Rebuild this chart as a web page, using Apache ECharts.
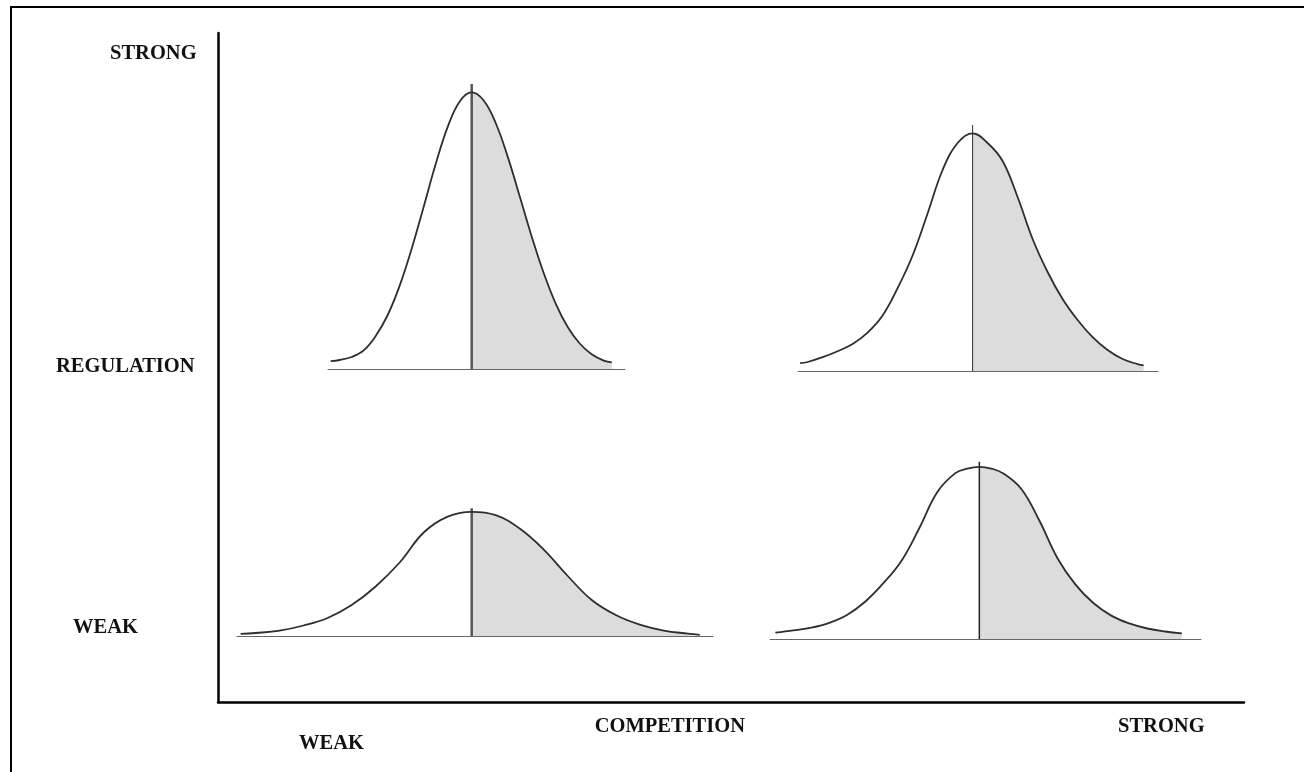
<!DOCTYPE html>
<html>
<head>
<meta charset="utf-8">
<title>Regulation vs Competition</title>
<script src="https://cdn.jsdelivr.net/npm/echarts@6.0.0/dist/echarts.min.js"></script>
<style>
  html, body { margin: 0; padding: 0; background: #fff; }
  #chart { width: 1304px; height: 772px; }
</style>
</head>
<body>
<div id="chart"></div>
<script>
// axis labels
const regulationLabels = ["STRONG", "REGULATION", "WEAK"];
const competitionLabels = ["WEAK", "COMPETITION", "STRONG"];

// each curve: offset from the mean, height above its baseline
const weakCompStrongRegX = [-47, -44, -40, -36, -32, -28, -24, -20, -16, -12, -8, -4, 0, 4, 8, 12, 16, 20, 24, 28, 32, 36, 40, 44, 46.7];
const weakCompStrongRegY = [2.6, 3.0, 4.0, 6.2, 11.0, 18.0, 27.8, 40.1, 54.1, 68.3, 80.7, 89.2, 92.2, 89.5, 82.0, 70.8, 57.6, 44.2, 32.0, 21.8, 14.0, 8.5, 4.9, 2.8, 2.2];

const strongCompStrongRegX = [-57.5, -55, -50, -45, -40, -35, -30, -25, -20, -15, -10, -5, 0, 5, 10, 15, 20, 25, 30, 35, 40, 45, 50, 55, 57];
const strongCompStrongRegY = [2.6, 3.0, 4.6, 6.6, 9.0, 12.8, 18.5, 27.6, 38.5, 52.5, 67, 76, 79.2, 76, 70, 58, 44, 33, 24, 17, 11.3, 7, 4, 2.3, 1.9];

const weakCompWeakRegX = [-77, -72, -64, -56, -48, -40, -32, -24, -16, -8, 0, 8, 16, 24, 32, 40, 48, 56, 64, 72, 76];
const weakCompWeakRegY = [0.7, 1.0, 1.8, 3.5, 6.0, 10.3, 16.5, 24.5, 34.5, 39.8, 41.4, 40.3, 35.8, 28.8, 20.0, 12.0, 7.0, 3.8, 1.8, 0.8, 0.4];

const strongCompWeakRegX = [-68, -62, -56, -50, -44, -38, -32, -26, -20, -14, -8, -4, 0, 4, 8, 14, 20, 26, 32, 38, 44, 50, 56, 62, 67.5];
const strongCompWeakRegY = [2.1, 2.9, 3.8, 5.4, 8.1, 12.5, 18.6, 26.0, 37.0, 49.0, 55.3, 56.8, 57.4, 56.8, 55.2, 50.0, 39.5, 27.0, 18.2, 12.0, 7.8, 5.2, 3.5, 2.5, 1.9];

// top of the vertical line drawn at each mean
const meanLineTops = [95, 82, 42.6, 59.1];

const panels = [
  { xs: weakCompStrongRegX, ys: weakCompStrongRegY, top: meanLineTops[0],
    grid: { left: 328, width: 297, top: 69, height: 300 }, min: -47.9, max: 51.1,
    meanColor: "#555", meanWidth: 2.5 },
  { xs: strongCompStrongRegX, ys: strongCompStrongRegY, top: meanLineTops[1],
    grid: { left: 798, width: 360, top: 71, height: 300 }, min: -58.2, max: 61.8,
    meanColor: "#333", meanWidth: 1 },
  { xs: weakCompWeakRegX, ys: weakCompWeakRegY, top: meanLineTops[2],
    grid: { left: 237, width: 476, top: 336, height: 300 }, min: -78.2, max: 80.4,
    meanColor: "#555", meanWidth: 2.5 },
  { xs: strongCompWeakRegX, ys: strongCompWeakRegY, top: meanLineTops[3],
    grid: { left: 770, width: 431, top: 339, height: 300 }, min: -69.8, max: 73.9,
    meanColor: "#222", meanWidth: 1.5 },
];

const chart = echarts.init(document.getElementById("chart"));

const grids = [];
const xAxes = [];
const yAxes = [];
const series = [];

panels.forEach((p, i) => {
  grids.push(p.grid);
  xAxes.push({
    type: "value", gridIndex: i, min: p.min, max: p.max,
    axisLine: { show: true, onZero: false, lineStyle: { color: "#666", width: 1 } },
    axisTick: { show: false }, axisLabel: { show: false }, splitLine: { show: false },
  });
  yAxes.push({ type: "value", gridIndex: i, min: 0, max: 100, show: false });

  const pts = p.xs.map((x, k) => [x, p.ys[k]]);
  const rightHalf = pts.filter((d) => d[0] >= 0);

  // shaded right half
  series.push({
    type: "line", xAxisIndex: i, yAxisIndex: i, data: rightHalf,
    smooth: 0.4, showSymbol: false, silent: true,
    lineStyle: { width: 0 },
    areaStyle: { color: "#dcdcdc", opacity: 1 },
    z: 1,
  });
  // the curve
  series.push({
    type: "line", xAxisIndex: i, yAxisIndex: i, data: pts,
    smooth: 0.4, showSymbol: false, silent: true,
    lineStyle: { color: "#2e2e2e", width: 1.8 },
    z: 3,
  });
  // line at the mean
  series.push({
    type: "line", xAxisIndex: i, yAxisIndex: i, data: [[0, 0], [0, p.top]],
    showSymbol: false, silent: true,
    lineStyle: { color: p.meanColor, width: p.meanWidth },
    z: 2,
  });
});

// main L-shaped axes
grids.push({ left: 218, top: 33, right: 60, bottom: 70 });
xAxes.push({
  type: "value", gridIndex: 4, min: 0, max: 100,
  axisLine: { show: true, lineStyle: { color: "#000", width: 2.5 } },
  axisTick: { show: false }, axisLabel: { show: false }, splitLine: { show: false },
});
yAxes.push({
  type: "value", gridIndex: 4, min: 0, max: 100,
  axisLine: { show: true, lineStyle: { color: "#000", width: 2.5 } },
  axisTick: { show: false }, axisLabel: { show: false }, splitLine: { show: false },
});

const txt = (text, x, y, align) => ({
  type: "text", silent: true,
  style: {
    text, x, y, textAlign: align || "left", textVerticalAlign: "middle",
    fontFamily: "Liberation Serif", fontWeight: "bold", fontSize: 20.5, fill: "#111",
  },
});

const option = {
  animation: false,
  backgroundColor: "#fff",
  grid: grids,
  xAxis: xAxes,
  yAxis: yAxes,
  series: series,
  graphic: [
    { type: "polyline", silent: true,
      shape: { points: [[11, 772], [11, 7], [1304, 7]] },
      style: { stroke: "#000", lineWidth: 2, fill: null } },
    txt(regulationLabels[0], 110, 54),
    txt(regulationLabels[1], 56, 367),
    txt(regulationLabels[2], 73, 628),
    txt(competitionLabels[0], 299, 744),
    txt(competitionLabels[1], 745, 727, "right"),
    txt(competitionLabels[2], 1118, 727),
  ],
};

chart.setOption(option);
</script>
</body>
</html>
